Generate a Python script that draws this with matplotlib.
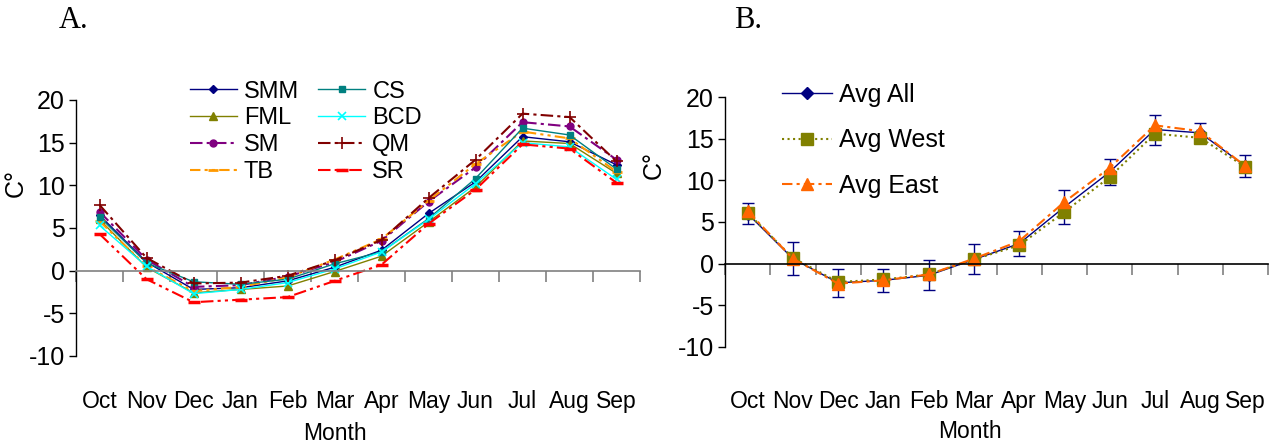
import numpy as np
import matplotlib
matplotlib.use('Agg')
import matplotlib.pyplot as plt

plt.rcParams['font.family'] = ['Liberation Sans', 'DejaVu Sans']

# months on x axis
months = ['Oct', 'Nov', 'Dec', 'Jan', 'Feb', 'Mar', 'Apr', 'May', 'Jun', 'Jul', 'Aug', 'Sep']

# panel A: monthly temperature per site
smm = [6.5, 1.0, -2.2, -2.0, -1.2, 0.4, 2.4, 6.7, 10.4, 15.7, 15.1, 12.4]
fml = [6.0, 0.4, -2.6, -2.2, -1.8, -0.1, 1.7, 5.7, 9.8, 15.2, 14.9, 11.4]
sm  = [6.9, 1.3, -1.9, -1.7, -0.7, 1.0, 3.5, 8.1, 12.1, 17.4, 16.9, 13.0]
tb  = [5.8, 0.5, -2.4, -1.9, -0.8, 1.3, 3.7, 8.2, 12.5, 16.3, 15.5, 11.6]
cs  = [6.3, 0.9, -1.3, -1.6, -1.0, 0.8, 2.2, 6.1, 10.8, 16.7, 15.9, 11.9]
bcd = [5.3, 0.5, -2.7, -2.2, -1.4, 0.2, 2.2, 6.0, 10.2, 15.0, 14.5, 10.7]
qm  = [7.7, 1.5, -1.5, -1.4, -0.6, 1.2, 3.6, 8.5, 13.0, 18.4, 18.0, 12.8]
sr  = [4.3, -1.0, -3.7, -3.4, -3.1, -1.2, 0.7, 5.5, 9.5, 14.8, 14.3, 10.3]

# panel B: averages
avg_all  = [6.0, 0.6, -2.3, -2.0, -1.4, 0.5, 2.4, 6.8, 11.0, 16.1, 15.7, 11.7]
avg_err  = [1.3, 2.0, 1.7, 1.4, 1.8, 1.8, 1.5, 2.0, 1.55, 1.8, 1.2, 1.35]
avg_west = [6.1, 0.7, -2.2, -1.9, -1.3, 0.5, 2.2, 6.2, 10.4, 15.6, 15.1, 11.6]
avg_east = [6.3, 0.6, -2.4, -2.0, -1.3, 0.6, 2.7, 7.4, 11.5, 16.6, 15.9, 11.7]

x = np.arange(len(months))

fig = plt.figure(figsize=(12.78, 4.46), dpi=100)
axA = fig.add_axes([0.0595, 0.2018, 0.4413, 0.574])
axB = fig.add_axes([0.5673, 0.222, 0.4249, 0.5605])


def style_axis(ax, zero_color, pad):
    ax.set_xlim(-0.5, 11.5)
    ax.set_ylim(-10, 20)
    ax.set_yticks([-10, -5, 0, 5, 10, 15, 20])
    ax.set_yticklabels(['-10', '-5', '0', '5', '10', '15', '20'])
    ax.spines['top'].set_visible(False)
    ax.spines['right'].set_visible(False)
    ax.spines['bottom'].set_position(('data', 0))
    ax.spines['bottom'].set_color(zero_color)
    ax.spines['bottom'].set_linewidth(1.2)
    ax.spines['left'].set_linewidth(1.0)
    ax.set_xticks(x)
    ax.set_xticklabels(months)
    ax.set_xticks(np.arange(-0.5, 12, 1), minor=True)
    ax.tick_params(axis='x', which='major', length=0, pad=pad, labelsize=16.5)
    ax.tick_params(axis='x', which='minor', length=8, width=1.2, color='#808080', direction='out')
    ax.tick_params(axis='y', length=5, width=1, pad=3, labelsize=18)
    ax.set_xlabel('Month', fontsize=16.5)


# ---- Panel A ----
axA.plot(x, smm, color='#000080', marker='D', ms=4, lw=1, label='SMM')
axA.plot(x, fml, color='#808000', marker='^', ms=6, lw=1, label='FML')
axA.plot(x, sm, color='#800080', marker='o', ms=5, lw=1.5, dashes=(6, 2, 1.5, 2), label='SM')
axA.plot(x, tb, color='#FF9900', marker='_', ms=7, mew=2, lw=1.5, dashes=(5, 2, 1.5, 2, 1.5, 2), label='TB')
axA.plot(x, cs, color='#008080', marker='s', ms=5, lw=1, label='CS')
axA.plot(x, bcd, color='#00FFFF', marker='x', ms=6, mew=1.2, lw=1, label='BCD')
axA.plot(x, qm, color='#800000', marker='+', ms=9, mew=1.2, lw=1.5, dashes=(6, 2, 1.5, 2), label='QM')
axA.plot(x, sr, color='#FF0000', marker='_', ms=8, mew=2.5, lw=1.5, dashes=(6, 2, 1.5, 2, 1.5, 2), label='SR')

style_axis(axA, '#808080', 86)
axA.set_ylabel('C°', fontsize=18)
axA.yaxis.set_label_coords(-0.085, 0.676)
axA.xaxis.set_label_coords(0.459, -0.258)
axA.legend(ncol=2, loc='upper left', bbox_to_anchor=(0.172, 1.14), frameon=False,
           fontsize=17, handlelength=2.0, labelspacing=0.2, columnspacing=0.8,
           handletextpad=0.3, borderpad=0.2)
fig.text(0.046, 0.955, 'A.', family='Liberation Serif', fontsize=22, va='center')

# ---- Panel B ----
axB.errorbar(x, avg_all, yerr=avg_err, fmt='none', ecolor='#000080',
             capsize=4, elinewidth=1, capthick=1)
axB.plot(x, avg_all, color='#000080', marker='D', ms=6, lw=1, label='Avg All')
axB.plot(x, avg_west, color='#808000', marker='s', ms=8, lw=1.5, ls=':', label='Avg West')
axB.plot(x, avg_east, color='#FF6600', marker='^', ms=8, lw=1.5, dashes=(5, 2, 1.5, 2), label='Avg East')

style_axis(axB, 'black', 91)
axB.set_ylabel('C°', fontsize=18)
axB.yaxis.set_label_coords(-0.11, 0.728)
axB.xaxis.set_label_coords(0.451, -0.292)
axB.legend(loc='upper left', bbox_to_anchor=(0.072, 1.126), frameon=False,
           fontsize=18, handlelength=2.0, labelspacing=0.85, handletextpad=0.3, borderpad=0.2)
fig.text(0.574, 0.955, 'B.', family='Liberation Serif', fontsize=22, va='center')

fig.savefig('out.png', dpi=100)
